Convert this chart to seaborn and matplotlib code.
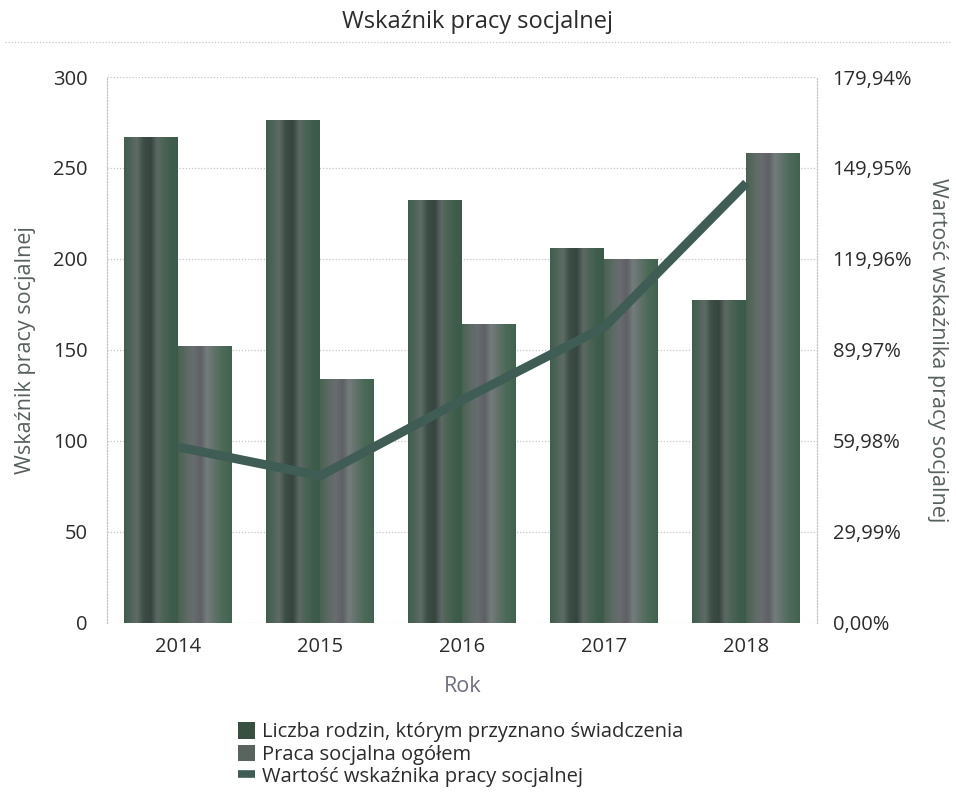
import numpy as np
import pandas as pd
import matplotlib
matplotlib.use("Agg")
import matplotlib.pyplot as plt
from matplotlib.colors import LinearSegmentedColormap
from matplotlib.patches import Patch
from matplotlib.lines import Line2D
import seaborn as sns

# --- data -------------------------------------------------------------
lata = ["2014", "2015", "2016", "2017", "2018"]
liczba_rodzin = [267, 276, 232, 206, 177]
praca_socjalna = [152, 134, 164, 200, 258]
wskaznik_proc = [58.0, 48.5, 73.5, 97.5, 145.0]

seria_1 = "Liczba rodzin, którym przyznano świadczenia"
seria_2 = "Praca socjalna ogółem"
seria_3 = "Wartość wskaźnika pracy socjalnej"

lewe_ticki = [0, 50, 100, 150, 200, 250, 300]
prawe_ticki = [0.0, 29.99, 59.98, 89.97, 119.96, 149.95, 179.94]

df = pd.DataFrame({
    "Rok": lata * 2,
    "wartosc": liczba_rodzin + praca_socjalna,
    "seria": [seria_1] * len(lata) + [seria_2] * len(lata),
})
df_line = pd.DataFrame({"Rok": lata, "wskaznik": wskaznik_proc})

# --- style ------------------------------------------------------------
sns.set_theme(style="white")
plt.rcParams["font.family"] = ["Open Sans", "DejaVu Sans"]
txt = "#2b2b2b"
lab = "#56605c"
line_col = "#3f5d55"
tick_fs = 14.5
label_fs = 15.5

fig = plt.figure(figsize=(9.56, 7.93), dpi=100)
ax = fig.add_axes([0.112, 0.2144, 0.743, 0.6885])

sns.barplot(data=df, x="Rok", y="wartosc", hue="seria", order=lata,
            hue_order=[seria_1, seria_2], width=0.76, gap=0,
            palette=["#38503f", "#5a645f"], saturation=1,
            edgecolor="none", linewidth=0, ax=ax, legend=False)

# cylinder-like shading across each bar
grad_dark = LinearSegmentedColormap.from_list("dark", [
    (0.00, "#405e4d"), (0.12, "#4f6459"), (0.24, "#5e6b66"), (0.36, "#3c4e45"),
    (0.50, "#36463f"), (0.62, "#5d6865"), (0.74, "#4b6354"), (0.88, "#3f5d4c"),
    (1.00, "#3c5a49")])
grad_light = LinearSegmentedColormap.from_list("light", [
    (0.00, "#4a6252"), (0.14, "#5a6a62"), (0.28, "#686d6f"), (0.42, "#5e6066"),
    (0.54, "#757c7b"), (0.64, "#667470"), (0.80, "#4e6b5a"), (1.00, "#42624f")])
strip = np.linspace(0, 1, 128).reshape(1, -1)
n = len(lata)
for i, p in enumerate(ax.patches[:2 * n]):
    cmap = grad_dark if i < n else grad_light
    x0, w, h = p.get_x(), p.get_width(), p.get_height()
    ax.imshow(strip, cmap=cmap, extent=[x0, x0 + w, 0, h], aspect="auto",
              interpolation="bilinear", zorder=p.get_zorder() + 0.1)
    p.set_alpha(0)

ax.set_xlim(-0.5, n - 0.5)
ax.set_ylim(0, 300)
ax.set_yticks(lewe_ticki)
ax.yaxis.grid(True, color="#c4c4c4", linestyle=(0, (1, 1.5)), linewidth=0.9)
ax.set_axisbelow(True)
for s in ["top", "bottom"]:
    ax.spines[s].set_visible(False)
for s in ["left", "right"]:
    ax.spines[s].set_color("#c4c4c4")
    ax.spines[s].set_linestyle((0, (1, 1.5)))
    ax.spines[s].set_linewidth(0.9)
ax.tick_params(axis="both", length=0, labelsize=tick_fs, colors=txt)
ax.tick_params(axis="x", pad=10)
ax.tick_params(axis="y", pad=14)
ax.set_xlabel("Rok", fontsize=label_fs, color="#6e6e82", labelpad=14)
ax.set_ylabel("Wskaźnik pracy socjalnej", fontsize=label_fs, color=lab, labelpad=12)

# secondary axis with the ratio line
ax2 = ax.twinx()
sns.lineplot(data=df_line, x="Rok", y="wskaznik", color=line_col,
             linewidth=6.5, solid_capstyle="butt", ax=ax2, legend=False)
ax2.set_xlim(-0.5, n - 0.5)
ax2.set_ylim(0, prawe_ticki[-1])
ax2.set_yticks(prawe_ticki)
ax2.set_yticklabels([f"{v:.2f}%".replace(".", ",") for v in prawe_ticki])
ax2.tick_params(axis="y", length=0, labelsize=tick_fs, colors=txt, pad=11)
for s in ax2.spines.values():
    s.set_visible(False)
ax2.set_ylabel("Wartość wskaźnika pracy socjalnej", fontsize=label_fs, color=lab,
               rotation=270, labelpad=26)
ax2.set_xlabel("")

# title and separator
fig.text(0.5, 0.972, "Wskaźnik pracy socjalnej", ha="center", va="center",
         fontsize=17, color=txt)
fig.add_artist(Line2D([0.005, 0.995], [0.947, 0.947], transform=fig.transFigure,
                      color="#c8c8c8", linestyle=(0, (1, 1.5)), linewidth=0.9))

handles = [
    Patch(facecolor="#38503f", edgecolor="none"),
    Patch(facecolor="#5a645f", edgecolor="none"),
    Line2D([0], [0], color=line_col, linewidth=5.5, solid_capstyle="butt"),
]
fig.legend(handles, [seria_1, seria_2, seria_3], loc="upper left",
           bbox_to_anchor=(0.238, 0.102), frameon=False, fontsize=14.5,
           handlelength=0.85, handleheight=0.9, handletextpad=0.35,
           labelspacing=0.1, borderpad=0, labelcolor=txt)

fig.savefig("out.png", dpi=100)
